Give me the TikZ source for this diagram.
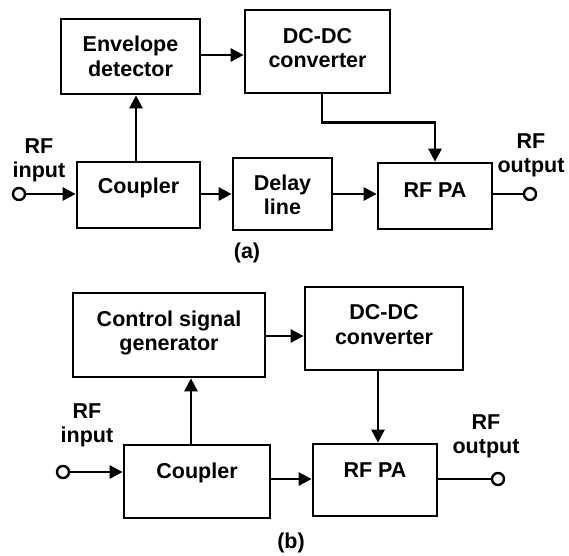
\documentclass[tikz,border=0pt]{standalone}
\usepackage{fontspec}
\setmainfont{Liberation Sans}
\usetikzlibrary{arrows.meta,calc}
\begin{document}
\begin{tikzpicture}[x=1pt,y=-1pt,
  line width=2.7pt,
  blk/.style={draw,rectangle,inner sep=0pt},
  txt/.style={inner sep=0pt,align=center,anchor=north,
    font=\fontsize{21.5}{24.5}\selectfont\bfseries},
  sublabel/.style={inner sep=0pt,font=\fontsize{21.5}{24.5}\selectfont\bfseries},
  port/.style={draw,circle,minimum size=12pt,inner sep=0pt,line width=2.4pt},
  arr/.style={-{Triangle[length=13pt,width=13pt]}}]
\useasboundingbox (0,0) rectangle (569,555);

% ---------------- (a) envelope tracking ----------------
\node[blk,minimum width=139pt,minimum height=75pt] (env) at (130.5,56.5) {};
\node[blk,minimum width=145pt,minimum height=83pt] (dca) at (317.5,51.5) {};
\node[blk,minimum width=123pt,minimum height=66pt] (cpa) at (138.5,195) {};
\node[blk,minimum width=99pt,minimum height=72pt]  (dly) at (282.5,194) {};
\node[blk,minimum width=114pt,minimum height=66pt] (paa) at (435,196) {};

\node[txt] (tenv) at (130.5,35) {Envelope\\detector};
\node[txt] (tdca) at (317.5,26.7) {DC-DC\\converter};
\node[txt] (tcpa) at (138.5,176.7) {Coupler};
\node[txt] (tdly) at (282.5,173.3) {Delay\\line};
\node[txt] (tpaa) at (435,181.7) {RF PA};

\node[port] (ina) at (19,194) {};
\node[port] (outa) at (530,194) {};
\node[txt] (tina) at (39,137) {RF\\input};
\node[txt] (touta) at (531,132) {RF\\output};

\draw[arr] (ina) -- (ina -| cpa.west);
\draw[arr] ([xshift=-2.5pt]cpa.north) -- ([xshift=-2.5pt]cpa.north |- env.south);
\draw[arr] (env.east |- 0,55) -- (dca.west |- 0,55);
\draw[arr] (cpa.east |- ina) -- (dly.west |- ina);
\draw[arr] (dly.east |- ina) -- (paa.west |- ina);
\draw[arr] ([xshift=4.5pt]dca.south) |- ([yshift=39pt]paa.north) -- (paa.north);
\draw (paa.east |- outa) -- (outa);

\node[sublabel] (capa) at (247,253) {(a)};

% ---------------- (b) control-signal based ----------------
\node[blk,minimum width=192pt,minimum height=84pt] (csg) at (169,335) {};
\node[blk,minimum width=158pt,minimum height=83pt] (dcb) at (384,328.5) {};
\node[blk,minimum width=146pt,minimum height=73pt] (cpb) at (197,481.5) {};
\node[blk,minimum width=124pt,minimum height=72pt] (pab) at (375,480) {};

\node[txt] (tcsg) at (169,309.3) {Control signal\\generator};
\node[txt] (tdcb) at (384,303.3) {DC-DC\\converter};
\node[txt] (tcpb) at (197,461.7) {Coupler};
\node[txt] (tpab) at (375,461.7) {RF PA};

\node[port] (inb) at (63,472) {};
\node[port] (outb) at (498,479) {};
\node[txt] (tinb) at (87,402) {RF\\input};
\node[txt] (toutb) at (486,413) {RF\\output};

\draw[arr] (inb) -- (inb -| cpb.west);
\draw[arr] ([xshift=-6pt]cpb.north) -- ([xshift=-6pt]cpb.north |- csg.south);
\draw[arr] (csg.east |- 0,336) -- (dcb.west |- 0,336);
\draw[arr] (cpb.east |- outb) -- (pab.west |- outb);
\draw[arr] ([xshift=-6pt]dcb.south) -- ([xshift=-6pt]dcb.south |- pab.north);
\draw (pab.east |- outb) -- (outb);

\node[sublabel] (capb) at (291,543) {(b)};
\end{tikzpicture}
\end{document}
